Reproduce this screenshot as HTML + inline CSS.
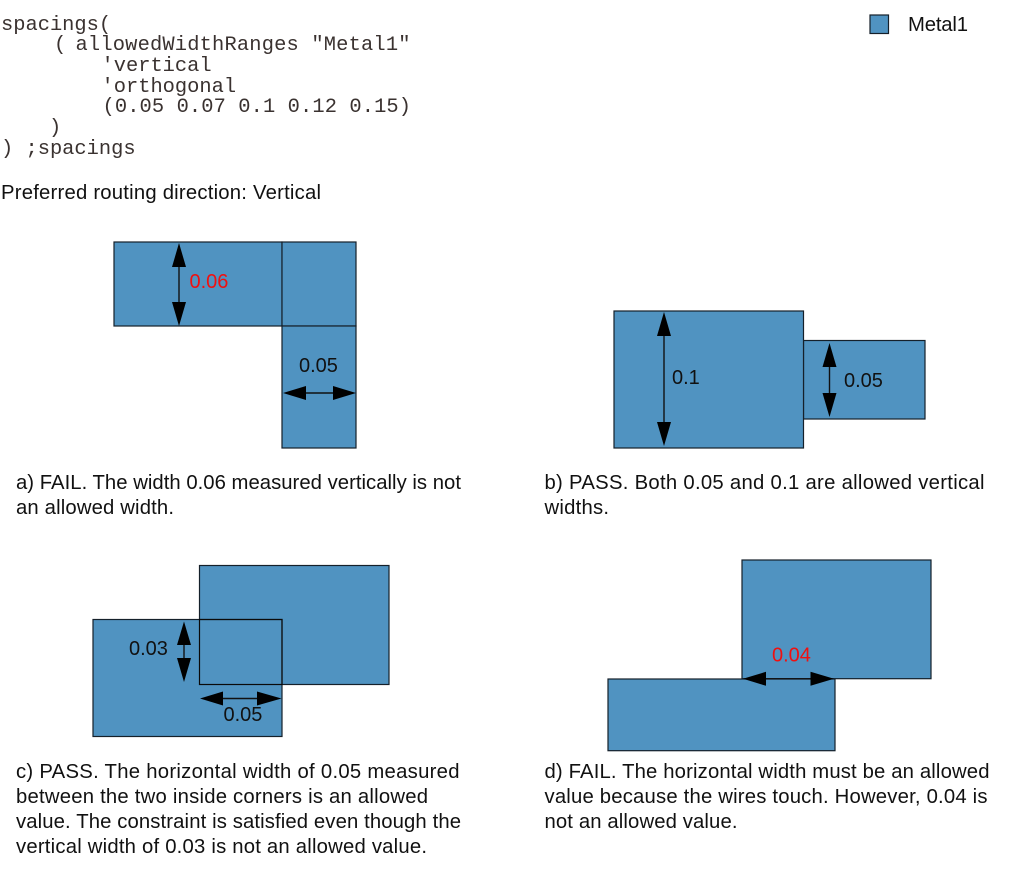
<!DOCTYPE html>
<html>
<head>
<meta charset="utf-8">
<style>
html,body{margin:0;padding:0;background:#fff;}
svg{display:block;}
.s{font-family:"Liberation Sans",sans-serif;font-size:20.3px;fill:#111;}
.d{font-family:"Liberation Sans",sans-serif;font-size:20px;fill:#111;}
.r{fill:#f01010;}
.m{font-family:"Liberation Mono",monospace;font-size:20.4px;fill:#3a3230;}
.b{fill:#5093c1;stroke:#15202a;stroke-width:1.2;}
.o{fill:none;stroke:#0a0a0a;stroke-width:1.2;}
.l{stroke:#111;stroke-width:1.4;fill:none;}
.h{fill:#000;}
</style>
</head>
<body>
<svg width="1013" height="885" viewBox="0 0 1013 885" xmlns="http://www.w3.org/2000/svg">
<rect width="1013" height="885" fill="#fff"/>

<!-- code -->
<text class="m" x="1" y="30" xml:space="preserve">spacings(</text>
<text class="m" x="54" y="50">(</text>
<text class="m" x="75.500" y="50" xml:space="preserve" textLength="335" lengthAdjust="spacing">allowedWidthRanges "Metal1"</text>
<text class="m" x="101.500" y="71" xml:space="preserve">'vertical</text>
<text class="m" x="101.500" y="92" xml:space="preserve">'orthogonal</text>
<text class="m" x="102.500" y="112" xml:space="preserve" textLength="308.500" lengthAdjust="spacing">(0.05 0.07 0.1 0.12 0.15)</text>
<text class="m" x="49" y="133" xml:space="preserve">)</text>
<text class="m" x="1" y="154" xml:space="preserve">) ;spacings</text>

<text class="s" x="1" y="199" textLength="320" lengthAdjust="spacing">Preferred routing direction: Vertical</text>

<!-- legend -->
<rect class="b" x="870" y="15" width="18.5" height="18.5"/>
<text class="s" x="908" y="31" textLength="60" lengthAdjust="spacing">Metal1</text>

<!-- a -->
<rect class="b" x="114" y="242" width="168" height="84"/>
<rect class="b" x="282" y="242" width="74" height="84"/>
<rect class="b" x="282" y="326" width="74" height="122"/>
<line class="l" x1="179" y1="262" x2="179" y2="306"/>
<polygon class="h" points="179,243 186,267 172,267"/>
<polygon class="h" points="179,326 186,302 172,302"/>
<text class="d r" x="189.500" y="288">0.06</text>
<line class="l" x1="302" y1="393" x2="338" y2="393"/>
<polygon class="h" points="283,393 306,386 306,400"/>
<polygon class="h" points="356,393 333,386 333,400"/>
<text class="d" x="299" y="372">0.05</text>

<!-- b -->
<rect class="b" x="803.500" y="340.500" width="121.500" height="78.500"/>
<rect class="b" x="614" y="311" width="189.500" height="137"/>
<line class="l" x1="664" y1="330" x2="664" y2="428"/>
<polygon class="h" points="664,312 671,336 657,336"/>
<polygon class="h" points="664,446 671,422 657,422"/>
<text class="d" x="672" y="384">0.1</text>
<line class="l" x1="829.500" y1="362" x2="829.500" y2="398"/>
<polygon class="h" points="829.500,343 836.500,367 822.500,367"/>
<polygon class="h" points="829.500,417 836.500,393 822.500,393"/>
<text class="d" x="844" y="387">0.05</text>

<text class="s" x="16" y="489" textLength="445" lengthAdjust="spacing">a) FAIL. The width 0.06 measured vertically is not</text>
<text class="s" x="16" y="514" textLength="158" lengthAdjust="spacing">an allowed width.</text>
<text class="s" x="544.500" y="489" textLength="440" lengthAdjust="spacing">b) PASS. Both 0.05 and 0.1 are allowed vertical</text>
<text class="s" x="544.500" y="514" textLength="64.500" lengthAdjust="spacing">widths.</text>

<!-- c -->
<rect class="b" x="199.500" y="565.500" width="189.500" height="119"/>
<rect class="b" x="93" y="619.500" width="189" height="117"/>
<rect class="o" x="199.500" y="619.500" width="82.500" height="65"/>
<line class="l" x1="184" y1="640" x2="184" y2="663"/>
<polygon class="h" points="184,621.500 191,645 177,645"/>
<polygon class="h" points="184,682 191,658 177,658"/>
<text class="d" x="129" y="655">0.03</text>
<line class="l" x1="218" y1="698.500" x2="262" y2="698.500"/>
<polygon class="h" points="200,698.500 223,691.500 223,705.500"/>
<polygon class="h" points="281.500,698.500 257,691.500 257,705.500"/>
<text class="d" x="223.500" y="721">0.05</text>

<!-- d -->
<rect class="b" x="742" y="560" width="189" height="118.700"/>
<rect class="b" x="608" y="679" width="227" height="71.700"/>
<line class="l" x1="760" y1="678.800" x2="815" y2="678.800"/>
<polygon class="h" points="743,678.800 766,671.800 766,685.800"/>
<polygon class="h" points="834,678.800 810.500,671.800 810.500,685.800"/>
<text class="d r" x="772" y="661.500">0.04</text>

<text class="s" x="16" y="778" textLength="443.500" lengthAdjust="spacing">c) PASS. The horizontal width of 0.05 measured</text>
<text class="s" x="16" y="803" textLength="412" lengthAdjust="spacing">between the two inside corners is an allowed</text>
<text class="s" x="16" y="828" textLength="445" lengthAdjust="spacing">value. The constraint is satisfied even though the</text>
<text class="s" x="16" y="853" textLength="411" lengthAdjust="spacing">vertical width of 0.03 is not an allowed value.</text>

<text class="s" x="544.500" y="778" textLength="445" lengthAdjust="spacing">d) FAIL. The horizontal width must be an allowed</text>
<text class="s" x="544.500" y="803" textLength="443" lengthAdjust="spacing">value because the wires touch. However, 0.04 is</text>
<text class="s" x="544.500" y="828" textLength="193" lengthAdjust="spacing">not an allowed value.</text>
</svg>
</body>
</html>
